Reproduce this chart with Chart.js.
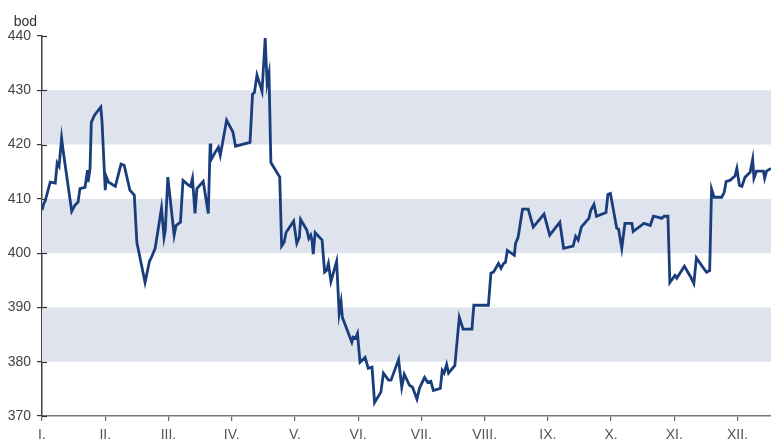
<!DOCTYPE html>
<html>
<head>
<meta charset="utf-8">
<script src="https://cdn.jsdelivr.net/npm/chart.js@4/dist/chart.umd.min.js"></script>
<style>
  html, body { margin: 0; padding: 0; background: #fff; }
  #wrap { width: 771px; height: 440px; position: relative; }
</style>
</head>
<body>
<div id="wrap"><canvas id="c" width="771" height="440"></canvas></div>
<script>
// Month labels on the horizontal axis (one tick per month start)
const monthLabels = ['I.', 'II.', 'III.', 'IV.', 'V.', 'VI.', 'VII.', 'VIII.', 'IX.', 'X.', 'XI.', 'XII.'];

// Position of each observation, in months from the start of the year
const monthPos = [
  0.00, 0.03, 0.05, 0.13, 0.21, 0.24, 0.27, 0.31, 0.34, 0.47,
  0.52, 0.57, 0.60, 0.68, 0.72, 0.73, 0.76, 0.78, 0.83, 0.93,
  0.95, 1.00, 1.02, 1.05, 1.16, 1.25, 1.30, 1.39, 1.46, 1.50,
  1.63, 1.70, 1.73, 1.79, 1.89, 1.93, 1.95, 1.99, 2.09, 2.12,
  2.19, 2.23, 2.32, 2.35, 2.38, 2.42, 2.45, 2.55, 2.63, 2.66,
  2.67, 2.74, 2.79, 2.82, 2.92, 3.02, 3.06, 3.29, 3.33, 3.36,
  3.40, 3.48, 3.53, 3.56, 3.59, 3.62, 3.76, 3.79, 3.83, 3.86,
  3.98, 4.03, 4.07, 4.09, 4.19, 4.22, 4.25, 4.27, 4.29, 4.32,
  4.43, 4.47, 4.50, 4.53, 4.57, 4.66, 4.70, 4.73, 4.75, 4.90,
  4.92, 4.96, 4.99, 5.03, 5.11, 5.16, 5.22, 5.26, 5.36, 5.40,
  5.48, 5.52, 5.64, 5.69, 5.73, 5.81, 5.86, 5.93, 5.97, 6.05,
  6.10, 6.15, 6.19, 6.30, 6.33, 6.36, 6.40, 6.43, 6.53, 6.60,
  6.66, 6.80, 6.83, 7.06, 7.10, 7.14, 7.22, 7.26, 7.30, 7.33,
  7.36, 7.47, 7.49, 7.53, 7.60, 7.69, 7.77, 7.94, 8.03, 8.19,
  8.25, 8.40, 8.44, 8.48, 8.53, 8.61, 8.65, 8.68, 8.73, 8.77,
  8.92, 8.95, 8.99, 9.09, 9.12, 9.17, 9.22, 9.33, 9.35, 9.42,
  9.50, 9.52, 9.57, 9.62, 9.67, 9.75, 9.80, 9.84, 9.90, 9.93,
  10.01, 10.04, 10.10, 10.16, 10.26, 10.31, 10.35, 10.44, 10.51, 10.56,
  10.59, 10.63, 10.75, 10.79, 10.82, 10.88, 10.96, 10.99, 11.03, 11.07,
  11.12, 11.20, 11.24, 11.26, 11.30, 11.41, 11.43, 11.46, 11.53
];

// Index level in points (bod) at each observation
const points = [
  407.9, 409.2, 409.6, 413.1, 412.9, 416.6, 416.0, 421.2, 418.4, 407.7,
  408.8, 409.4, 411.9, 412.1, 415.3, 413.1, 415.6, 424.1, 425.4, 426.9,
  424.1, 411.6, 414.0, 413.1, 412.3, 416.4, 416.2, 411.6, 410.7, 402.0,
  394.6, 398.5, 399.2, 400.9, 408.3, 402.9, 404.2, 414.0, 403.3, 405.1,
  405.7, 413.4, 412.5, 412.3, 413.8, 407.3, 411.9, 413.2, 407.3, 420.2,
  417.1, 418.6, 419.5, 418.0, 424.5, 422.3, 419.7, 420.4, 429.3, 429.6,
  432.8, 429.8, 439.6, 431.3, 433.1, 416.7, 414.0, 401.3, 402.0, 403.8,
  405.9, 401.8, 402.9, 406.2, 404.2, 402.7, 403.3, 402.4, 399.8, 403.8,
  402.4, 396.5, 396.8, 398.1, 394.8, 398.5, 388.9, 391.0, 388.2, 383.6,
  384.5, 384.3, 385.2, 379.9, 380.8, 378.8, 379.0, 372.5, 374.4, 377.9,
  376.6, 376.6, 380.4, 375.3, 377.7, 375.7, 375.3, 373.1, 375.1, 377.1,
  376.2, 376.4, 374.7, 375.1, 378.4, 377.9, 379.5, 377.9, 379.3, 388.2,
  386.0, 386.0, 390.4, 390.4, 396.3, 396.5, 398.1, 397.2, 398.1, 398.3,
  400.5, 399.6, 401.8, 402.9, 408.1, 408.1, 404.8, 407.2, 403.3, 405.7,
  400.9, 401.3, 403.1, 402.4, 404.8, 405.9, 406.4, 407.9, 409.0, 406.8,
  407.5, 410.8, 411.0, 404.6, 404.4, 400.9, 405.5, 405.5, 404.0, 404.6,
  405.3, 405.5, 405.3, 405.1, 406.8, 406.6, 406.4, 406.8, 406.8, 394.6,
  395.9, 395.4, 396.5, 397.6, 395.6, 394.4, 399.1, 397.6, 396.5, 396.8,
  411.8, 410.3, 410.3, 411.2, 413.2, 413.4, 414.2, 415.6, 412.5, 412.3,
  414.0, 414.9, 417.3, 413.8, 415.1, 415.1, 413.8, 415.1, 415.6
];

// Horizontal shaded bands (value ranges)
const bandRanges = [[380, 390], [400, 410], [420, 430]];

const yTitle = 'bod';
const yMin = 370, yMax = 440, yStep = 10;
const xMin = 0, xMax = 11.53;

const series = monthPos.map((m, i) => ({ x: m, y: points[i] }));

const FONT = "'Liberation Sans', Arial, sans-serif";

// Alternating background bands behind the line
const bandsPlugin = {
  id: 'bands',
  beforeDatasetsDraw(chart) {
    const { ctx, chartArea, scales } = chart;
    ctx.save();
    ctx.fillStyle = '#dee3ee';
    bandRanges.forEach(([lo, hi]) => {
      const y1 = scales.y.getPixelForValue(hi);
      const y2 = scales.y.getPixelForValue(lo);
      ctx.fillRect(chartArea.left, y1, chartArea.right - chartArea.left, y2 - y1);
    });
    ctx.restore();
  }
};

// Inner half of the cross-shaped value-axis ticks, plus the unit label
const axisExtras = {
  id: 'axisExtras',
  afterDraw(chart) {
    const { ctx, chartArea, scales } = chart;
    const ys = scales.y;
    ctx.save();
    ctx.strokeStyle = '#333';
    ctx.lineWidth = 1.2;
    ys.ticks.forEach(t => {
      const y = Math.round(ys.getPixelForValue(t.value)) + 0.5;
      ctx.beginPath();
      ctx.moveTo(chartArea.left, y);
      ctx.lineTo(chartArea.left + 5, y);
      ctx.stroke();
    });
    ctx.fillStyle = '#333';
    ctx.font = '14px ' + FONT;
    ctx.textAlign = 'right';
    ctx.textBaseline = 'alphabetic';
    ctx.fillText(yTitle, chartArea.left - 5, ys.getPixelForValue(yMax) - 10);
    ctx.restore();
  }
};

new Chart(document.getElementById('c'), {
  type: 'line',
  data: {
    datasets: [{
      data: series,
      borderColor: '#1a3d7b',
      borderWidth: 2.8,
      pointRadius: 0,
      tension: 0,
      fill: false
    }]
  },
  options: {
    responsive: false,
    animation: false,
    events: [],
    layout: { padding: { top: 36, right: 0, left: 0, bottom: 0 } },
    plugins: { legend: { display: false }, tooltip: { enabled: false } },
    scales: {
      x: {
        type: 'linear',
        min: xMin,
        max: xMax,
        afterFit(scale) { scale.height = 24; },
        afterBuildTicks(scale) {
          scale.ticks = monthLabels.map((_, i) => ({ value: i }));
        },
        ticks: {
          autoSkip: false,
          maxRotation: 0,
          padding: 6,
          color: '#555',
          font: { family: FONT, size: 14 },
          callback: (v) => monthLabels[v] ?? ''
        },
        grid: { drawOnChartArea: false, drawTicks: true, tickLength: 5, color: '#666', lineWidth: 1.2 },
        border: { display: true, color: '#777', width: 1.5 }
      },
      y: {
        min: yMin,
        max: yMax,
        afterFit(scale) { scale.width = 42; },
        ticks: {
          stepSize: yStep,
          padding: 6,
          color: '#444',
          font: { family: FONT, size: 14 }
        },
        grid: { drawOnChartArea: false, drawTicks: true, tickLength: 5, color: '#333', lineWidth: 1.2 },
        border: { display: true, color: '#444', width: 1.5 }
      }
    }
  },
  plugins: [bandsPlugin, axisExtras]
});
</script>
</body>
</html>
